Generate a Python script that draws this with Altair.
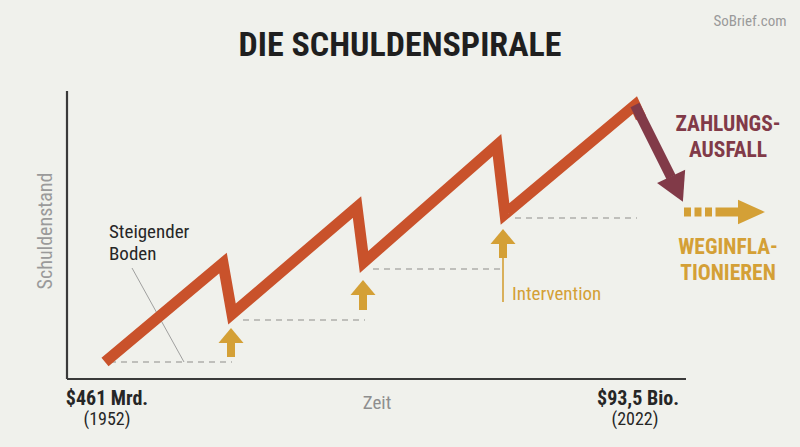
import altair as alt
import pandas as pd

W, H = 800, 447
FONT = "Roboto Condensed"
BG = "#F0F1EC"
RED = "#C9522B"
MAROON = "#813A48"
GOLD = "#D4A036"
GRAY = "#AEAFAB"
DARK = "#262626"

# ---- data (chart coordinates: x = Zeit, y = Schuldenstand, top-down) ----
zig_x = [105, 223, 232, 357, 364, 497, 505, 635, 641]
zig_y = [362, 263, 314, 207, 262, 145, 214, 105, 118]

default_x = [635, 671]
default_y = [105, 177]
default_head = (677, 189)

floor_x1 = [110, 243, 373, 515]
floor_x2 = [232, 365, 500, 637]
floor_y = [362, 320, 269, 218]

up_x = [231, 363, 503]
up_tip_center = [335.5, 287.5, 236.5]
up_shaft_top = [342, 294, 243]
up_shaft_bottom = [357, 310, 258]

interv_line = (503, 258, 302)

infl_dash = (684, 722, 212)
infl_shaft = (722, 741, 212)
infl_head = (751.5, 212)

axis_x = (67, 686, 379)
axis_y = (67, 91, 379)

leader = (132, 268, 184, 362)

X = alt.Scale(domain=[0, W], nice=False, zero=False)
Y = alt.Scale(domain=[0, H], nice=False, zero=False, reverse=True)


def enc(**kw):
    out = {}
    for k, v in kw.items():
        if k == "x":
            out[k] = alt.X(v, type="quantitative", scale=X, axis=None)
        elif k == "x2":
            out[k] = alt.X2(v)
        elif k == "y":
            out[k] = alt.Y(v, type="quantitative", scale=Y, axis=None)
        elif k == "y2":
            out[k] = alt.Y2(v)
        else:
            out[k] = v
    return out


layers = []

# axes
ax = pd.DataFrame({"x": [axis_x[0], axis_y[0]], "x2": [axis_x[1], axis_y[0]],
                   "y": [axis_x[2], axis_y[1]], "y2": [axis_x[2], axis_y[2]]})
layers.append(alt.Chart(ax).mark_rule(color="#3A3A3A", strokeWidth=2.2)
              .encode(**enc(x="x", x2="x2", y="y", y2="y2")))

# leader line
ld = pd.DataFrame({"x": [leader[0]], "y": [leader[1]], "x2": [leader[2]], "y2": [leader[3]]})
layers.append(alt.Chart(ld).mark_rule(color="#8A8A8A", strokeWidth=0.8)
              .encode(**enc(x="x", x2="x2", y="y", y2="y2")))

# floor dashed lines
fl = pd.DataFrame({"x": floor_x1, "x2": floor_x2, "y": floor_y})
layers.append(alt.Chart(fl).mark_rule(color=GRAY, strokeWidth=1.6, strokeDash=[6, 5])
              .encode(**enc(x="x", x2="x2", y="y")))

# intervention thin line
il = pd.DataFrame({"x": [interv_line[0]], "y": [interv_line[1]], "y2": [interv_line[2]]})
layers.append(alt.Chart(il).mark_rule(color=GOLD, strokeWidth=1.6)
              .encode(**enc(x="x", y="y", y2="y2")))

# up arrows
us = pd.DataFrame({"x": up_x, "y": up_shaft_top, "y2": up_shaft_bottom})
layers.append(alt.Chart(us).mark_rule(color=GOLD, strokeWidth=8, strokeCap="butt")
              .encode(**enc(x="x", y="y", y2="y2")))
uh = pd.DataFrame({"x": up_x, "y": up_tip_center})
layers.append(alt.Chart(uh).mark_point(shape="M0,-0.6L1,0.6L-1,0.6Z", filled=True, size=625,
                                       color=GOLD, opacity=1, strokeWidth=0)
              .encode(**enc(x="x", y="y")))

# zigzag
zz = pd.DataFrame({"x": zig_x, "y": zig_y, "i": range(len(zig_x))})
layers.append(alt.Chart(zz).mark_line(color=RED, strokeWidth=11, strokeJoin="miter",
                                      strokeCap="butt", strokeMiterLimit=6)
              .encode(**enc(x="x", y="y", order="i:Q")))

# default arrow
dd = pd.DataFrame({"x": default_x, "y": default_y, "i": [0, 1]})
layers.append(alt.Chart(dd).mark_line(color=MAROON, strokeWidth=10, strokeCap="butt")
              .encode(**enc(x="x", y="y", order="i:Q")))
dh = pd.DataFrame({"x": [default_head[0]], "y": [default_head[1]]})
layers.append(alt.Chart(dh).mark_point(shape="M-1,-0.9L1,-0.9L0,0.9Z", filled=True, size=961,
                                       angle=335, color=MAROON, opacity=1, strokeWidth=0)
              .encode(**enc(x="x", y="y")))

# inflate-away arrow
idf = pd.DataFrame({"x": [infl_dash[0]], "x2": [infl_dash[1]], "y": [infl_dash[2]]})
layers.append(alt.Chart(idf).mark_rule(color=GOLD, strokeWidth=9, strokeDash=[7, 3.5], strokeCap="butt")
              .encode(**enc(x="x", x2="x2", y="y")))
isf = pd.DataFrame({"x": [infl_shaft[0]], "x2": [infl_shaft[1]], "y": [infl_shaft[2]]})
layers.append(alt.Chart(isf).mark_rule(color=GOLD, strokeWidth=9, strokeCap="butt")
              .encode(**enc(x="x", x2="x2", y="y")))
ih = pd.DataFrame({"x": [infl_head[0]], "y": [infl_head[1]]})
layers.append(alt.Chart(ih).mark_point(shape="M-1,-0.9L1,0L-1,0.9Z", filled=True, size=729,
                                       color=GOLD, opacity=1, strokeWidth=0)
              .encode(**enc(x="x", y="y")))


def text_layer(texts, xs, ys, size, color, weight="normal", align="center", angle=None, lh=None):
    df = pd.DataFrame({"t": texts, "x": xs, "y": ys})
    kw = dict(font=FONT, fontSize=size, color=color, fontWeight=weight, align=align,
              baseline="middle")
    if angle is not None:
        kw["angle"] = angle
    if lh is not None:
        kw["lineBreak"] = "\n"
        kw["lineHeight"] = lh
    return alt.Chart(df).mark_text(**kw).encode(**enc(x="x", y="y", text="t:N"))


layers.append(text_layer(["DIE SCHULDENSPIRALE"], [400], [46], 34, "#1F1F1F", "bold"))
layers.append(text_layer(["SoBrief.com"], [750], [21], 15, "#9A9A9A"))
layers.append(text_layer(["Schuldenstand"], [46], [231], 20, "#9A9A9A", angle=270))
layers.append(text_layer(["Zeit"], [377], [403], 19, "#8E8E8E"))
layers.append(text_layer(["$461 Mrd.", "$93,5 Bio."], [107, 638], [399, 399], 20, DARK, "bold"))
layers.append(text_layer(["(1952)", "(2022)"], [107, 635], [420, 420], 18, DARK))
layers.append(text_layer(["Steigender\nBoden"], [109], [232], 19, DARK, align="left", lh=22))
layers.append(text_layer(["Intervention"], [512], [294], 19, GOLD, align="left"))
layers.append(text_layer(["ZAHLUNGS-\nAUSFALL"], [728], [125], 21.5, MAROON, "bold", lh=25.5))
layers.append(text_layer(["WEGINFLA-\nTIONIEREN"], [728], [248], 21.5, GOLD, "bold", lh=25.5))

chart = alt.layer(*layers).properties(
    width=W, height=H, background=BG, padding=0,
    autosize=alt.AutoSizeParams(type="none"),
).configure_view(stroke=None)

chart.save("out.html", embed_options={"renderer": "svg", "actions": False})
